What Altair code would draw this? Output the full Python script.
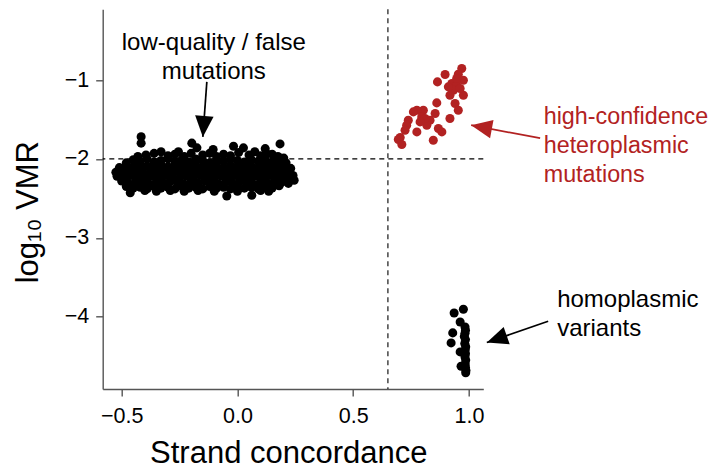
import math
import altair as alt
import pandas as pd

# ------------------------------------------------------------------ data
# low-quality / false mutations (strand concordance, log10 VMR)
low_quality = [
    # outliers above the band
    (-0.416, -1.72), (-0.416, -1.80), (-0.197, -1.80), (-0.105, -1.88), (0.12, -1.87),
    # top edge
    (-0.43, -1.97), (-0.395, -1.95), (-0.36, -1.93), (-0.33, -1.91), (-0.30, -1.96),
    (-0.27, -1.94), (-0.255, -1.91), (-0.23, -1.97), (-0.20, -1.93), (-0.175, -1.86),
    (-0.15, -1.95), (-0.12, -1.93), (-0.09, -1.97), (-0.06, -1.94), (-0.03, -1.96),
    (-0.017, -1.84), (0.005, -1.92), (0.026, -1.86), (0.05, -1.95), (0.075, -1.91),
    (0.10, -1.96), (0.125, -1.93), (0.15, -1.94), (0.175, -1.97), (0.184, -1.81), (0.20, -1.99),
    # second row
    (-0.48, -2.05), (-0.45, -2.01), (-0.42, -2.03), (-0.39, -2.00), (-0.36, -2.04),
    (-0.33, -2.02), (-0.30, -2.00), (-0.27, -2.03), (-0.24, -2.01), (-0.21, -2.04),
    (-0.18, -2.00), (-0.15, -2.02), (-0.12, -2.05), (-0.09, -2.01), (-0.06, -2.03),
    (-0.03, -2.00), (0.00, -2.02), (0.03, -2.04), (0.06, -2.01), (0.09, -2.03),
    (0.12, -2.00), (0.15, -2.04), (0.18, -2.02), (0.21, -2.05),
    # third row
    (-0.51, -2.11), (-0.48, -2.08), (-0.45, -2.10), (-0.42, -2.07), (-0.39, -2.09),
    (-0.36, -2.11), (-0.33, -2.08), (-0.30, -2.10), (-0.27, -2.07), (-0.24, -2.09),
    (-0.21, -2.11), (-0.18, -2.08), (-0.15, -2.10), (-0.12, -2.07), (-0.09, -2.09),
    (-0.06, -2.11), (-0.03, -2.08), (0.00, -2.10), (0.03, -2.07), (0.06, -2.09),
    (0.09, -2.11), (0.12, -2.08), (0.15, -2.10), (0.18, -2.07), (0.21, -2.09), (0.23, -2.12),
    # fourth row
    (-0.525, -2.17), (-0.50, -2.15), (-0.47, -2.17), (-0.44, -2.14), (-0.41, -2.16),
    (-0.38, -2.18), (-0.35, -2.15), (-0.32, -2.17), (-0.29, -2.14), (-0.26, -2.16),
    (-0.23, -2.18), (-0.20, -2.15), (-0.17, -2.17), (-0.14, -2.14), (-0.11, -2.16),
    (-0.08, -2.18), (-0.05, -2.15), (-0.02, -2.17), (0.01, -2.14), (0.04, -2.16),
    (0.07, -2.18), (0.10, -2.15), (0.13, -2.17), (0.16, -2.14), (0.19, -2.16),
    (0.22, -2.18), (0.24, -2.21),
    # fifth row
    (-0.52, -2.22), (-0.49, -2.24), (-0.46, -2.21), (-0.43, -2.23), (-0.40, -2.25),
    (-0.37, -2.22), (-0.34, -2.24), (-0.31, -2.21), (-0.28, -2.23), (-0.25, -2.25),
    (-0.22, -2.22), (-0.19, -2.24), (-0.16, -2.21), (-0.13, -2.23), (-0.10, -2.25),
    (-0.07, -2.22), (-0.04, -2.24), (-0.01, -2.21), (0.02, -2.23), (0.05, -2.25),
    (0.08, -2.22), (0.11, -2.24), (0.14, -2.21), (0.17, -2.23), (0.20, -2.25),
    (0.23, -2.24), (0.245, -2.27),
    # sixth row
    (-0.50, -2.28), (-0.47, -2.31), (-0.44, -2.29), (-0.41, -2.30), (-0.38, -2.32),
    (-0.35, -2.29), (-0.32, -2.31), (-0.29, -2.28), (-0.26, -2.30), (-0.23, -2.32),
    (-0.20, -2.29), (-0.17, -2.31), (-0.14, -2.28), (-0.11, -2.30), (-0.08, -2.32),
    (-0.05, -2.29), (-0.02, -2.31), (0.01, -2.28), (0.04, -2.30), (0.07, -2.32),
    (0.10, -2.29), (0.13, -2.31), (0.16, -2.28), (0.19, -2.30), (0.22, -2.31),
    # seventh row
    (-0.48, -2.35), (-0.45, -2.37), (-0.42, -2.36), (-0.39, -2.38), (-0.36, -2.35),
    (-0.33, -2.37), (-0.30, -2.36), (-0.27, -2.38), (-0.24, -2.35), (-0.21, -2.37),
    (-0.18, -2.36), (-0.15, -2.38), (-0.12, -2.35), (-0.09, -2.37), (-0.06, -2.36),
    (-0.03, -2.38), (0.00, -2.35), (0.03, -2.37), (0.06, -2.36), (0.09, -2.38),
    (0.12, -2.35), (0.15, -2.37), (0.18, -2.34),
    # bottom edge and outliers
    (-0.463, -2.43), (-0.40, -2.40), (-0.35, -2.41), (-0.29, -2.40), (-0.23, -2.41),
    (-0.17, -2.40), (-0.10, -2.41), (-0.046, -2.47), (0.00, -2.41), (0.062, -2.46),
    (0.10, -2.40), (0.135, -2.41),
]

# high-confidence heteroplasmic mutations
heteroplasmic = [
    (0.969, -0.854), (0.954, -0.926), (0.897, -0.930), (0.864, -1.024), (0.926, -1.044),
    (0.947, -1.066), (0.976, -1.003), (0.933, -1.129), (0.918, -1.193), (0.976, -1.193),
    (0.940, -1.298), (0.954, -1.383), (0.918, -1.488), (0.861, -1.290), (0.854, -1.425),
    (0.832, -1.510), (0.818, -1.574), (0.868, -1.615), (0.883, -1.658), (0.846, -1.763),
    (0.803, -1.383), (0.775, -1.383), (0.760, -1.404), (0.796, -1.468), (0.810, -1.488),
    (0.738, -1.510), (0.731, -1.574), (0.724, -1.637), (0.775, -1.658), (0.703, -1.729),
    (0.695, -1.754), (0.710, -1.817), (0.789, -1.531), (0.962, -1.108), (0.911, -1.087),
    (0.947, -0.981),
]

# homoplasmic variants
homoplasmic = [
    (0.976, -3.905), (0.936, -3.952), (0.962, -4.066), (0.983, -4.13), (0.985, -4.17),
    (0.930, -4.205), (0.983, -4.21), (0.980, -4.25), (0.923, -4.332), (0.985, -4.29),
    (0.982, -4.34), (0.986, -4.38), (0.962, -4.446), (0.984, -4.42), (0.985, -4.47),
    (0.983, -4.51), (0.986, -4.55), (0.966, -4.627), (0.984, -4.60), (0.985, -4.64),
    (0.987, -4.68), (0.986, -4.71),
]

x_ticks = [-0.5, 0.0, 0.5, 1.0]
y_ticks = [-4, -3, -2, -1]
x_title = "Strand concordance"
y_title = "log₁₀ VMR"
concordance_cutoff = 0.65
vmr_cutoff = -2.0

label_low = "low-quality / false\nmutations"
label_het = "high-confidence\nheteroplasmic\nmutations"
label_homo = "homoplasmic\nvariants"

# ------------------------------------------------------------------ layout / style
X_DOMAIN = [-0.582, 1.062]
Y_DOMAIN = [-4.916, -0.104]
W, H = 380.6, 379.7
RED = "#B22222"
AXIS_GREY = "#555555"
FONT = "Liberation Sans"
POINT_SIZE = 82

# annotation placement (data units): text anchor, arrow tail -> arrow tip
centered_notes = [(label_low, -0.102, -0.622, "#000000", 24)]
left_notes = [(label_het, 1.323, -1.560, RED, 23.3), (label_homo, 1.381, -3.876, "#000000", 24)]
arrows = [
    (-0.1322, -1.0241, -0.1495, -1.7212, "#000000"),
    (1.3075, -1.7376, 1.0095, -1.5729, RED),
    (1.3421, -4.0570, 1.0773, -4.3270, "#000000"),
]

# ------------------------------------------------------------------ frames
pts = pd.DataFrame(
    [(x, y, "low") for x, y in low_quality]
    + [(x, y, "het") for x, y in heteroplasmic]
    + [(x, y, "homo") for x, y in homoplasmic],
    columns=["x", "y", "group"],
)

kx = W / (X_DOMAIN[1] - X_DOMAIN[0])
ky = H / (Y_DOMAIN[1] - Y_DOMAIN[0])
arr_rows = []
for x0, y0, x1, y1, c in arrows:
    dx = (x1 - x0) * kx
    dy = -(y1 - y0) * ky
    ang = (math.degrees(math.atan2(dx, -dy)) + 360) % 360
    arr_rows.append((x0, y0, x1, y1, c, ang))
arr = pd.DataFrame(arr_rows, columns=["x", "y", "x2", "y2", "color", "angle"])

xs = alt.Scale(domain=X_DOMAIN, nice=False, zero=False)
ys = alt.Scale(domain=Y_DOMAIN, nice=False, zero=False)

x_axis = alt.Axis(
    values=x_ticks, format=".1f", title=x_title, grid=False, labelFlush=False,
    labelBaseline="alphabetic", labelPadding=26,
    titleX=185.6, titleY=73.5, titleBaseline="alphabetic", titleAlign="center",
)
y_axis = alt.Axis(
    values=y_ticks, format="d", title=y_title, grid=False, labelFlush=False,
    labelPadding=7, labelBaseline="middle",
    titleAngle=270, titleX=-65.2, titleY=202.4, titleBaseline="alphabetic", titleAlign="center",
)

hline = alt.Chart(pd.DataFrame({"y": [vmr_cutoff]})).mark_rule(
    color="black", strokeDash=[5, 4], strokeWidth=1.1
).encode(y=alt.Y("y:Q", scale=ys, axis=y_axis))

vline = alt.Chart(pd.DataFrame({"x": [concordance_cutoff]})).mark_rule(
    color="black", strokeDash=[5, 4], strokeWidth=1.1
).encode(x=alt.X("x:Q", scale=xs, axis=x_axis))

points = alt.Chart(pts).mark_circle(size=POINT_SIZE, opacity=1).encode(
    x=alt.X("x:Q", scale=xs, axis=x_axis),
    y=alt.Y("y:Q", scale=ys, axis=y_axis),
    color=alt.Color("group:N",
                    scale=alt.Scale(domain=["low", "het", "homo"], range=["#000000", RED, "#000000"]),
                    legend=None),
)

arrow_lines = alt.Chart(arr).mark_rule(strokeWidth=1.7).encode(
    x=alt.X("x:Q", scale=xs, axis=x_axis),
    y=alt.Y("y:Q", scale=ys, axis=y_axis),
    x2="x2:Q", y2="y2:Q",
    color=alt.Color("color:N", scale=None),
)

arrow_heads = alt.Chart(arr).mark_point(
    shape="M0,0L-0.44,1L0.44,1Z", filled=True, size=1764, opacity=1
).encode(
    x=alt.X("x2:Q", scale=xs, axis=x_axis),
    y=alt.Y("y2:Q", scale=ys, axis=y_axis),
    angle=alt.Angle("angle:Q", scale=None),
    color=alt.Color("color:N", scale=None),
)

cdf = pd.DataFrame(centered_notes, columns=["text", "x", "y", "color", "size"])
ldf = pd.DataFrame(left_notes, columns=["text", "x", "y", "color", "size"])

notes_c = alt.Chart(cdf).mark_text(
    font=FONT, lineBreak="\n", lineHeight=28.8, baseline="alphabetic", align="center"
).encode(
    x=alt.X("x:Q", scale=xs, axis=x_axis), y=alt.Y("y:Q", scale=ys, axis=y_axis),
    text="text:N", color=alt.Color("color:N", scale=None),
    size=alt.Size("size:Q", scale=None),
)
notes_l = alt.Chart(ldf).mark_text(
    font=FONT, lineBreak="\n", lineHeight=28.8, baseline="alphabetic", align="left"
).encode(
    x=alt.X("x:Q", scale=xs, axis=x_axis), y=alt.Y("y:Q", scale=ys, axis=y_axis),
    text="text:N", color=alt.Color("color:N", scale=None),
    size=alt.Size("size:Q", scale=None),
)

chart = alt.layer(
    hline, vline, points, arrow_lines, arrow_heads, notes_c, notes_l
).properties(
    width=W, height=H,
    autosize=alt.AutoSizeParams(type="none"),
    padding={"left": 94.7, "top": 1.3, "right": 226.7, "bottom": 80.0},
).configure_view(
    stroke="transparent"
).configure_axis(
    domainColor=AXIS_GREY, domainWidth=1.4, tickColor=AXIS_GREY, tickWidth=1.4, tickSize=7,
    labelFont=FONT, labelFontSize=21.5, labelColor="black",
    titleFont=FONT, titleFontSize=31, titleFontWeight="normal", titleColor="black",
)

chart.save("out.html", embed_options={"renderer": "svg", "actions": False})
